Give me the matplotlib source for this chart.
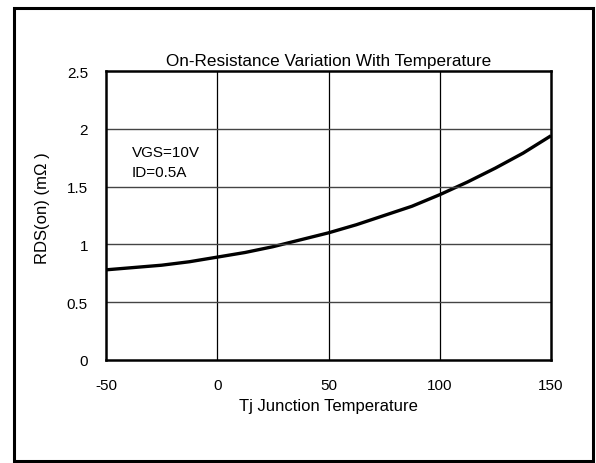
import numpy as np
import matplotlib
matplotlib.use("Agg")
import matplotlib.pyplot as plt
from matplotlib.patches import Rectangle

plt.rcParams["font.family"] = ["Liberation Sans Narrow", "Liberation Sans", "DejaVu Sans"]
plt.rcParams["axes.unicode_minus"] = False

# data
temp = [-50, -37.5, -25, -12.5, 0, 12.5, 25, 37.5, 50, 62.5, 75, 87.5, 100, 112.5, 125, 137.5, 150]
rds = [0.78, 0.80, 0.82, 0.85, 0.89, 0.93, 0.98, 1.04, 1.10, 1.17, 1.25, 1.33, 1.43, 1.54, 1.66, 1.79, 1.94]
x_ticks = [-50, 0, 50, 100, 150]
y_ticks = [0, 0.5, 1, 1.5, 2, 2.5]
y_ticklabels = ["0", "0.5", "1", "1.5", "2", "2.5"]

fig = plt.figure(figsize=(5.96, 4.64), dpi=100)
ax = fig.add_axes([106/596, 103/464, 445/596, 289/464])

# outer frame
fig.patches.append(Rectangle((14/596, 2/464), 579/596, 453/464, transform=fig.transFigure,
                             fill=False, edgecolor="black", linewidth=2.2))

ax.plot(temp, rds, color="black", linewidth=2.4, solid_capstyle="butt")

ax.set_xlim(-50, 150)
ax.set_ylim(0, 2.5)
ax.set_xticks(x_ticks)
ax.set_yticks(y_ticks)
ax.set_yticklabels(y_ticklabels)
ax.tick_params(length=0, labelsize=11, pad=13)

for v in x_ticks[1:-1]:
    ax.axvline(v, color="black", linewidth=0.9)
for v in y_ticks[1:-1]:
    ax.axhline(v, color="#444444", linewidth=1.0)

for sp in ax.spines.values():
    sp.set_linewidth(1.8)

ax.text(-38.5, 1.80, "VGS=10V", fontsize=11, va="center")
ax.text(-38.5, 1.63, "ID=0.5A", fontsize=11, va="center")

ax.set_title("On-Resistance Variation With Temperature", fontsize=12.3, pad=4)
ax.set_xlabel("Tj Junction Temperature", fontsize=12, labelpad=4)
ax.set_ylabel("RDS(on) (m\u03a9 )", fontsize=12)
ax.yaxis.set_label_coords(-0.125, 0.53)

fig.savefig("out.png", dpi=100)
